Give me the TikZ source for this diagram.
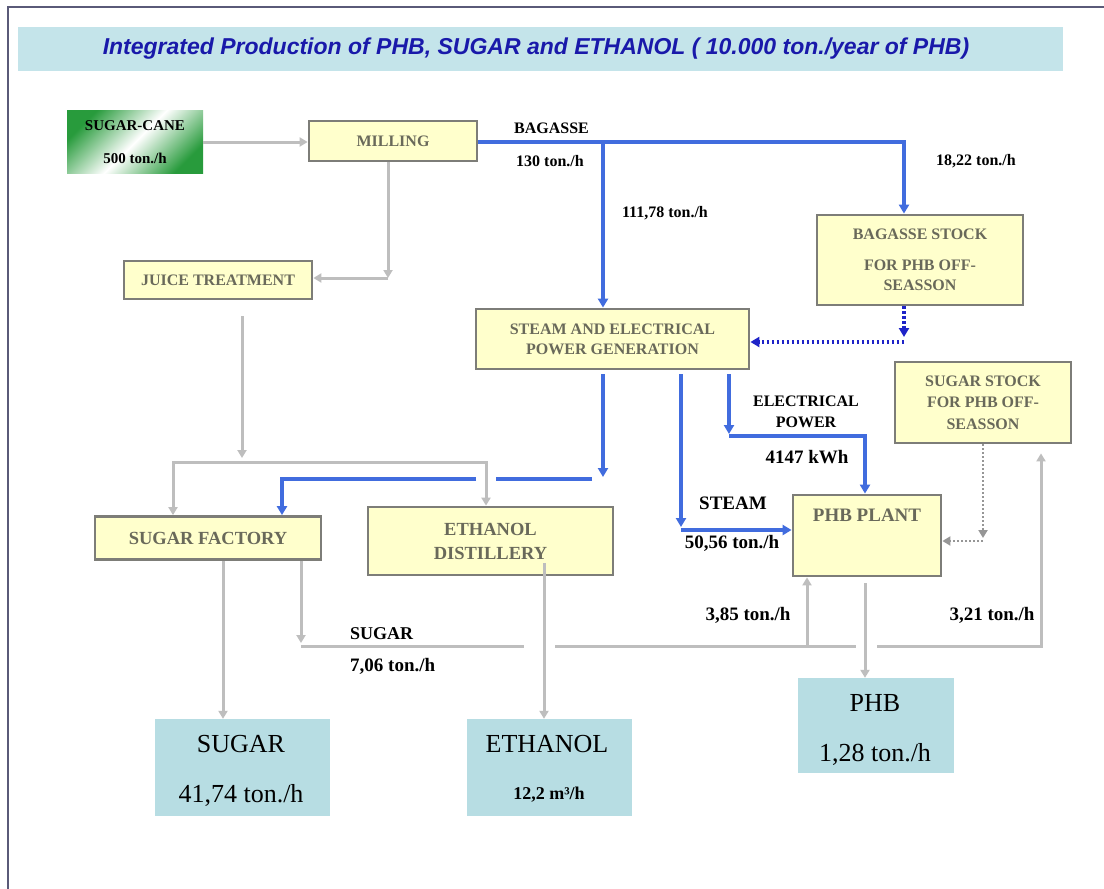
\documentclass[tikz,border=0pt]{standalone}
\usepackage{fontspec}
\setmainfont{Liberation Serif}
\newfontfamily\titlefont{Liberation Sans}
\usetikzlibrary{arrows.meta,calc}
\definecolor{ybox}{RGB}{255,255,204}
\definecolor{yborder}{RGB}{125,125,120}
\definecolor{ytext}{RGB}{105,105,90}
\definecolor{pbox}{RGB}{183,221,227}
\definecolor{tbar}{RGB}{196,228,234}
\definecolor{tblue}{RGB}{25,25,170}
\definecolor{lblue}{RGB}{65,108,222}
\definecolor{dblue}{RGB}{30,35,200}
\definecolor{lgray}{RGB}{190,190,190}
\definecolor{dgray}{RGB}{150,150,150}
\definecolor{caneg}{RGB}{40,155,60}
\definecolor{framec}{RGB}{90,90,120}
\begin{document}
\begin{tikzpicture}[x=1pt,y=-1pt,
  proc/.style={draw=yborder, line width=2.8pt, fill=ybox, text=ytext, font=\bfseries\fontsize{16}{20}\selectfont, align=center, inner sep=0pt},
  prod/.style={fill=pbox, inner sep=0pt},
  ptxt/.style={font=\fontsize{26}{28}\selectfont, inner sep=0pt},
  lbl/.style={font=\bfseries\fontsize{16}{21}\selectfont, inner sep=0pt, align=center},
  bigl/.style={font=\bfseries\fontsize{19}{20}\selectfont, inner sep=0pt},
  gline/.style={draw=lgray, line width=3pt},
  garrow/.style={gline, -{Triangle[length=8pt,width=9pt]}},
  bline/.style={draw=lblue, line width=3.6pt},
  barrow/.style={bline, -{Triangle[length=9pt,width=10pt]}},
  dotarrow/.style={draw=dblue, line width=3.4pt, dash pattern=on 2.5pt off 2.5pt, -{Triangle[length=9pt,width=10pt]}},
  gdot/.style={draw=dgray, line width=2.8pt, dash pattern=on 2pt off 2pt, -{Triangle[length=8pt,width=9pt]}}
]
\useasboundingbox (0,0) rectangle (1104,889);
\fill[white] (0,0) rectangle (1104,889);
\draw[framec, line width=1.2pt] (8,889) -- (8,7) -- (1104,7);

% title
\node[fill=tbar, minimum width=1045pt, minimum height=44pt, inner sep=0pt] (tbar) at (540.5,49) {};
\node[text=tblue, font=\titlefont\bfseries\itshape\fontsize{23}{25}\selectfont, inner sep=0pt] (title) at (536,49) {Integrated Production of PHB, SUGAR and ETHANOL ( 10.000 ton./year of PHB)};

% boxes
\node[shade, top color=caneg, bottom color=caneg, middle color=white, shading angle=45, minimum width=136pt, minimum height=63pt, inner sep=0pt, align=center, font=\bfseries\fontsize{15}{33}\selectfont] (cane) at (135,142) {SUGAR-CANE\\500 ton./h};
\node[proc, minimum width=168pt, minimum height=40pt] (mill) at (393,141) {MILLING};
\node[proc, minimum width=188pt, minimum height=38pt] (juice) at (218,280) {JUICE TREATMENT};
\node[proc, minimum width=206pt, minimum height=90pt] (bstock) at (920,260) {BAGASSE STOCK\\[11pt]FOR PHB OFF-\\SEASSON};
\node[proc, minimum width=273pt, minimum height=60pt] (steam) at (612.5,339) {STEAM AND ELECTRICAL\\POWER GENERATION};
\node[proc, minimum width=226pt, minimum height=43pt, font=\bfseries\fontsize{18.5}{20}\selectfont] (sfact) at (208,538) {SUGAR FACTORY};
\node[proc, minimum width=245pt, minimum height=68pt, font=\bfseries\fontsize{18.5}{24}\selectfont] (ethd) at (490.5,541) {ETHANOL\\DISTILLERY};
\node[proc, minimum width=176pt, minimum height=81pt, font=\bfseries\fontsize{16}{21.5}\selectfont] (sstock) at (983,402.5) {SUGAR STOCK\\FOR PHB OFF-\\SEASSON};
\node[proc, minimum width=148pt, minimum height=81pt] (phbp) at (867,535.5) {};
\node[text=ytext, font=\bfseries\fontsize{19}{20}\selectfont, inner sep=0pt] (phbt) at (867,515) {PHB PLANT};

% products
\node[prod, minimum width=175pt, minimum height=97pt] (psugar) at (242.5,767.5) {};
\node[ptxt] (psugar1) at (241,744) {SUGAR};
\node[ptxt] (psugar2) at (241,795) {41,74 ton./h};
\node[prod, minimum width=165pt, minimum height=97pt] (peth) at (549.5,767.5) {};
\node[ptxt] (peth1) at (547,744) {ETHANOL};
\node[bigl, font=\bfseries\fontsize{18}{20}\selectfont] (peth2) at (549,795) {12,2 m³/h};
\node[prod, minimum width=156pt, minimum height=95pt] (pphb) at (876,725.5) {};
\node[ptxt] (pphb1) at (875,703) {PHB};
\node[ptxt] (pphb2) at (875,754) {1,28 ton./h};

% cane -> milling
\draw[garrow] (cane.east) -- (mill.west |- cane.east);
% milling -> juice
\coordinate (c1) at (388,278);
\draw[garrow] (mill.south -| c1) -- (c1);
\draw[garrow] (c1) -- (juice.east |- c1);
% juice -> split
\coordinate (js) at (242,462);
\coordinate (ga) at (173,462);
\coordinate (gb) at (486,462);
\draw[garrow] ($(juice.south -| js)+(0,16)$) -- ($(js)+(0,-4)$);
\draw[gline, {Triangle[length=8pt,width=9pt]}-{Triangle[length=8pt,width=9pt]}] (ga |- sfact.north) -- (ga) -- (gb) -- (gb |- ethd.north);

% bagasse
\coordinate (bk) at (904,142);
\coordinate (bb) at (603,142);
\draw[barrow] (mill.east |- bk) -- (bk) -- (bk |- bstock.north);
\draw[barrow] (bb) -- (bb |- steam.north);
% dotted bagasse stock -> steam
\coordinate (dc) at (904,342);
\draw[dotarrow] (bk |- bstock.south) -- ($(dc)+(0,-5)$);
\draw[dotarrow] (dc) -- (steam.east |- dc);

% steam outputs
\coordinate (s1) at (603,477);
\draw[barrow] ($(s1 |- steam.south)+(0,4)$) -- (s1);
\coordinate (h1) at (592,479);
\coordinate (h2) at (496,479);
\coordinate (h3) at (476,479);
\coordinate (h4) at (282,479);
\draw[bline] (h1) -- (h2);
\draw[barrow] (h3) -- (h4) -- (h4 |- sfact.north);
\coordinate (st) at (681,530);
\draw[barrow] ($(st |- steam.south)+(0,4)$) -- ($(st)+(0,-3)$);
\draw[barrow] (st) -- (phbp.west |- st);
\coordinate (e1) at (729,436);
\coordinate (e2) at (865,436);
\draw[barrow] ($(e1 |- steam.south)+(0,4)$) -- ($(e1)+(0,-2)$);
\draw[barrow] (e1) -- (e2) -- (e2 |- phbp.north);

% sugar stock -> phb plant
\coordinate (ss) at (983,541);
\draw[gdot] (ss |- sstock.south) -- ($(ss)+(0,-3)$);
\draw[gdot] (ss) -- (phbp.east |- ss);

% sugar factory outputs
\coordinate (sl) at (223,560);
\draw[garrow] (sl |- sfact.south) -- (sl |- psugar.north);
\coordinate (sr) at (301,646);
\coordinate (g1) at (524,646);
\coordinate (g2) at (555,646);
\coordinate (g3) at (856,646);
\coordinate (g4) at (877,646);
\coordinate (g5) at (1041,646);
\coordinate (g6) at (807,646);
\draw[garrow] (sr |- sfact.south) -- ($(sr)+(0,-3)$);
\draw[gline] (sr) -- (g1);
\draw[gline] (g2) -- (g3);
\draw[garrow] (g4) -- (g5) -- ($(g5 |- sstock.south)+(0,9)$);
\draw[garrow] (g6) -- (g6 |- phbp.south);
% ethanol
\coordinate (et) at (544,563);
\draw[garrow] (et) -- (et |- peth.north);
% phb
\coordinate (ph) at (865,583);
\draw[garrow] (ph) -- (ph |- pphb.north);

% labels
\node[lbl, anchor=west] (lbag) at (514,128) {BAGASSE};
\node[lbl, anchor=west] (l130) at (516,161) {130 ton./h};
\node[lbl] (l111) at (665,213) {111,78 ton./h};
\node[lbl] (l18) at (976,161) {18,22 ton./h};
\node[lbl] (lelec) at (806,412) {ELECTRICAL\\POWER};
\node[bigl] (l4147) at (807,457) {4147 kWh};
\node[bigl] (lsteam) at (733,503) {STEAM};
\node[bigl] (l5056) at (732,543) {50,56 ton./h};
\node[bigl] (l385) at (748,615) {3,85 ton./h};
\node[bigl] (l321) at (992,615) {3,21 ton./h};
\node[bigl, font=\bfseries\fontsize{18}{20}\selectfont, anchor=west] (lsug) at (350,634) {SUGAR};
\node[bigl, anchor=west] (l706) at (350,666) {7,06 ton./h};
\end{tikzpicture}
\end{document}
